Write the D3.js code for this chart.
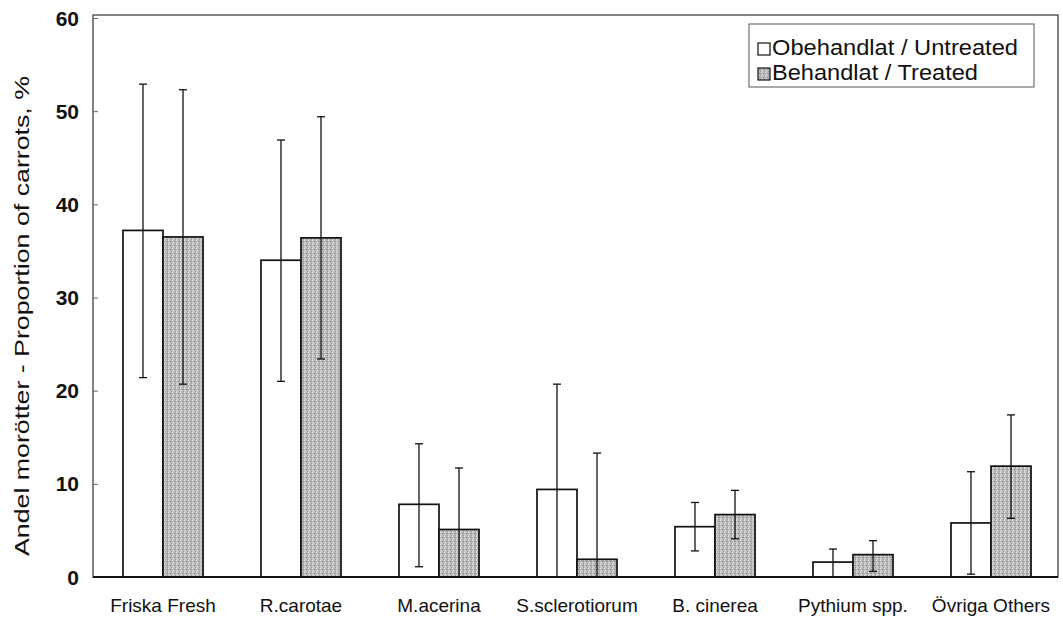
<!DOCTYPE html>
<html>
<head>
<meta charset="utf-8">
<script src="https://cdn.jsdelivr.net/npm/d3@7"></script>
<style>
  html, body { margin: 0; padding: 0; background: #fff; }
  svg { display: block; font-family: "Liberation Sans", Arial, Helvetica, sans-serif; }
</style>
</head>
<body>
<svg id="chart" width="1063" height="622"></svg>
<script>
// Share of carrots per diagnosis, untreated vs treated, with error ranges (%)
const categories = ["Friska Fresh", "R.carotae", "M.acerina", "S.sclerotiorum", "B. cinerea", "Pythium spp.", "Övriga Others"];
const seriesNames = ["Obehandlat / Untreated", "Behandlat / Treated"];
const untreated     = [37.2, 34.0, 7.8, 9.4, 5.4, 1.6, 5.8];
const untreatedLow  = [21.4, 21.0, 1.1, 0.0, 2.8, 0.0, 0.3];
const untreatedHigh = [52.9, 46.9, 14.3, 20.7, 8.0, 3.0, 11.3];
const treated       = [36.5, 36.4, 5.1, 1.9, 6.7, 2.4, 11.9];
const treatedLow    = [20.7, 23.4, 0.0, 0.0, 4.1, 0.6, 6.3];
const treatedHigh   = [52.3, 49.4, 11.7, 13.3, 9.3, 3.9, 17.4];
const yTicks = [0, 10, 20, 30, 40, 50, 60];

const svg = d3.select("#chart");
const plot = { left: 93, right: 1058, top: 15, bottom: 577 };

const x = d3.scaleBand().domain(categories).range([94, 1060]).paddingInner(0.42).paddingOuter(0.21);
const xSub = d3.scaleBand().domain([0, 1]).range([0, x.bandwidth()]);
const y = d3.scaleLinear().domain([0, 60]).range([plot.bottom, 18]);

// halftone-like grey fill for treated bars
const defs = svg.append("defs");
const pat = defs.append("pattern").attr("id", "grey").attr("width", 4).attr("height", 4)
  .attr("patternUnits", "userSpaceOnUse");
pat.append("rect").attr("width", 4).attr("height", 4).attr("fill", "#bcbcbc");
[[0,0],[2,1],[1,2],[3,3],[0,3],[3,1]].forEach(([px, py], i) => {
  pat.append("rect").attr("x", px).attr("y", py).attr("width", 1).attr("height", 1)
    .attr("fill", i % 2 ? "#939393" : "#dcdcdc");
});

// plot frame
svg.append("rect")
  .attr("x", plot.left).attr("y", plot.top)
  .attr("width", plot.right - plot.left).attr("height", plot.bottom - plot.top)
  .attr("fill", "none").attr("stroke", "#333").attr("stroke-width", 1.2);

// y axis: small inward ticks, bold labels
const yAxis = svg.append("g").attr("transform", `translate(${plot.left},0)`)
  .call(d3.axisRight(y).tickValues(yTicks).tickSize(5).tickFormat(""));
yAxis.select(".domain").remove();
yAxis.selectAll("line").attr("stroke", "#666");

svg.append("g").selectAll("text").data(yTicks).join("text")
  .attr("x", 79).attr("y", d => y(d)).attr("dy", "0.36em")
  .attr("text-anchor", "end").attr("font-size", 21).attr("font-weight", "bold")
  .attr("fill", "#111").text(d => d);

// y title
svg.append("text")
  .attr("transform", "translate(29,316) rotate(-90)")
  .attr("text-anchor", "middle").attr("font-size", 21).attr("fill", "#111")
  .attr("textLength", 480).attr("lengthAdjust", "spacingAndGlyphs")
  .text("Andel morötter - Proportion of carrots, %");

// x labels
svg.append("g").selectAll("text").data(categories).join("text")
  .attr("x", d => x(d) + x.bandwidth() / 2).attr("y", 612)
  .attr("text-anchor", "middle").attr("font-size", 19).attr("fill", "#111")
  .text(d => d);

const series = [
  { vals: untreated, lo: untreatedLow, hi: untreatedHigh, fill: "#fff", idx: 0 },
  { vals: treated, lo: treatedLow, hi: treatedHigh, fill: "url(#grey)", idx: 1 }
];

series.forEach(s => {
  const rows = categories.map((c, i) => ({ c, v: s.vals[i], lo: s.lo[i], hi: s.hi[i] }));
  const g = svg.append("g");
  g.selectAll("rect").data(rows).join("rect")
    .attr("x", d => x(d.c) + xSub(s.idx))
    .attr("y", d => y(d.v))
    .attr("width", xSub.bandwidth())
    .attr("height", d => y(0) - y(d.v))
    .attr("fill", s.fill).attr("stroke", "#111").attr("stroke-width", 1.7);

  const eb = svg.append("g").attr("stroke", "#111").attr("stroke-width", 1.3);
  const cx = d => x(d.c) + xSub(s.idx) + xSub.bandwidth() / 2;
  eb.selectAll("line.v").data(rows).join("line").attr("class", "v")
    .attr("x1", cx).attr("x2", cx)
    .attr("y1", d => y(d.hi)).attr("y2", d => y(Math.max(0, d.lo)));
  eb.selectAll("line.t").data(rows).join("line").attr("class", "t")
    .attr("x1", d => cx(d) - 4).attr("x2", d => cx(d) + 4)
    .attr("y1", d => y(d.hi)).attr("y2", d => y(d.hi));
  eb.selectAll("line.b").data(rows.filter(d => d.lo > 0)).join("line").attr("class", "b")
    .attr("x1", d => cx(d) - 4).attr("x2", d => cx(d) + 4)
    .attr("y1", d => y(d.lo)).attr("y2", d => y(d.lo));
});

// x baseline
svg.append("line").attr("x1", plot.left).attr("x2", plot.right)
  .attr("y1", y(0)).attr("y2", y(0)).attr("stroke", "#111").attr("stroke-width", 1.8);

// legend
const lg = svg.append("g").attr("transform", "translate(749,24)");
lg.append("rect").attr("width", 285).attr("height", 63)
  .attr("fill", "#fff").attr("stroke", "#555").attr("stroke-width", 1);
seriesNames.forEach((name, i) => {
  const base = 31 + i * 25;
  lg.append("rect").attr("x", 9).attr("y", base - 12).attr("width", 12).attr("height", 12)
    .attr("fill", series[i].fill).attr("stroke", "#111").attr("stroke-width", 1.2);
  lg.append("text").attr("x", 23).attr("y", base)
    .attr("font-size", 22).attr("fill", "#111")
    .attr("textLength", i === 0 ? 246 : 206).attr("lengthAdjust", "spacingAndGlyphs")
    .text(name);
});
</script>
</body>
</html>
